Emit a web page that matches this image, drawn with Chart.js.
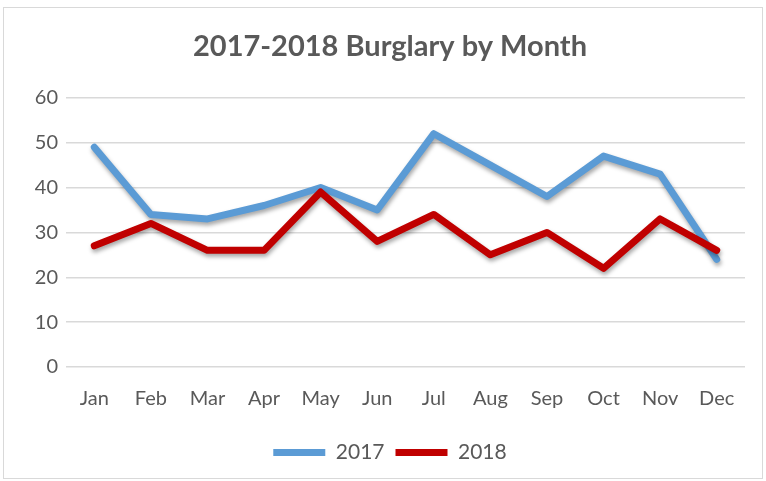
<!DOCTYPE html>
<html>
<head>
<meta charset="utf-8">
<script src="https://cdn.jsdelivr.net/npm/chart.js@4"></script>
<style>
  html, body { margin: 0; padding: 0; background: #ffffff; }
  #wrap { position: relative; width: 766px; height: 481px; }
  #frame { position: absolute; left: 3px; top: 7px; width: 760px; height: 472px; border: 1.5px solid #d9d9d9; box-sizing: border-box; pointer-events: none; }
</style>
</head>
<body>
<div id="wrap">
  <canvas id="c" width="766" height="481"></canvas>
  <div id="frame"></div>
</div>
<script>
const months = ["Jan","Feb","Mar","Apr","May","Jun","Jul","Aug","Sep","Oct","Nov","Dec"];
const burglary2017 = [49, 34, 33, 36, 40, 35, 52, 45, 38, 47, 43, 24];
const burglary2018 = [27, 32, 26, 26, 39, 28, 34, 25, 30, 22, 33, 26];
const yTicks = [0, 10, 20, 30, 40, 50, 60];

const FONT = "Lato, 'Liberation Sans', sans-serif";
const TXT = "#595959";

const shadowPlugin = {
  id: 'lineShadow',
  beforeDatasetDraw(chart) {
    const ctx = chart.ctx;
    ctx.save();
    ctx.shadowColor = 'rgba(0,0,0,0.35)';
    ctx.shadowBlur = 4;
    ctx.shadowOffsetX = 1;
    ctx.shadowOffsetY = 3;
  },
  afterDatasetDraw(chart) {
    chart.ctx.restore();
  }
};

new Chart(document.getElementById('c'), {
  type: 'line',
  data: {
    labels: months,
    datasets: [
      {
        label: '2017',
        data: burglary2017,
        borderColor: '#5B9BD5',
        backgroundColor: '#5B9BD5',
        borderWidth: 7,
        pointRadius: 0,
        tension: 0,
        borderCapStyle: 'round',
        borderJoinStyle: 'round',
        order: 1
      },
      {
        label: '2018',
        data: burglary2018,
        borderColor: '#C00000',
        backgroundColor: '#C00000',
        borderWidth: 7,
        pointRadius: 0,
        tension: 0,
        borderCapStyle: 'round',
        borderJoinStyle: 'round',
        order: 0
      }
    ]
  },
  options: {
    responsive: false,
    animation: false,
    devicePixelRatio: 1,
    layout: { padding: { top: 10, right: 21, bottom: 8, left: 35 } },
    plugins: {
      title: {
        display: true,
        text: '2017-2018 Burglary by Month',
        color: TXT,
        font: { family: FONT, size: 29, weight: 'bold', lineHeight: 1.2 },
        padding: { top: 19, bottom: 34 }
      },
      legend: {
        position: 'bottom',
        labels: {
          color: TXT,
          font: { family: FONT, size: 21 },
          usePointStyle: true,
          pointStyle: 'line',
          pointStyleWidth: 52,
          boxHeight: 7,
          padding: 11,
          sort: (a, b) => a.datasetIndex - b.datasetIndex
        }
      },
      tooltip: { enabled: false }
    },
    scales: {
      x: {
        offset: true,
        grid: { display: false, drawTicks: false },
        border: { display: false },
        ticks: { color: TXT, font: { family: FONT, size: 20 }, padding: 20, maxRotation: 0 }
      },
      y: {
        min: 0,
        max: 60,
        afterBuildTicks(scale) { scale.ticks = yTicks.map(v => ({ value: v })); },
        afterFit(scale) { scale.width = 31; },
        grid: { color: '#d9d9d9', lineWidth: 1.5, drawTicks: false },
        border: { display: false },
        ticks: { color: TXT, font: { family: FONT, size: 20 }, padding: 8 }
      }
    }
  },
  plugins: [shadowPlugin]
});
</script>
</body>
</html>
